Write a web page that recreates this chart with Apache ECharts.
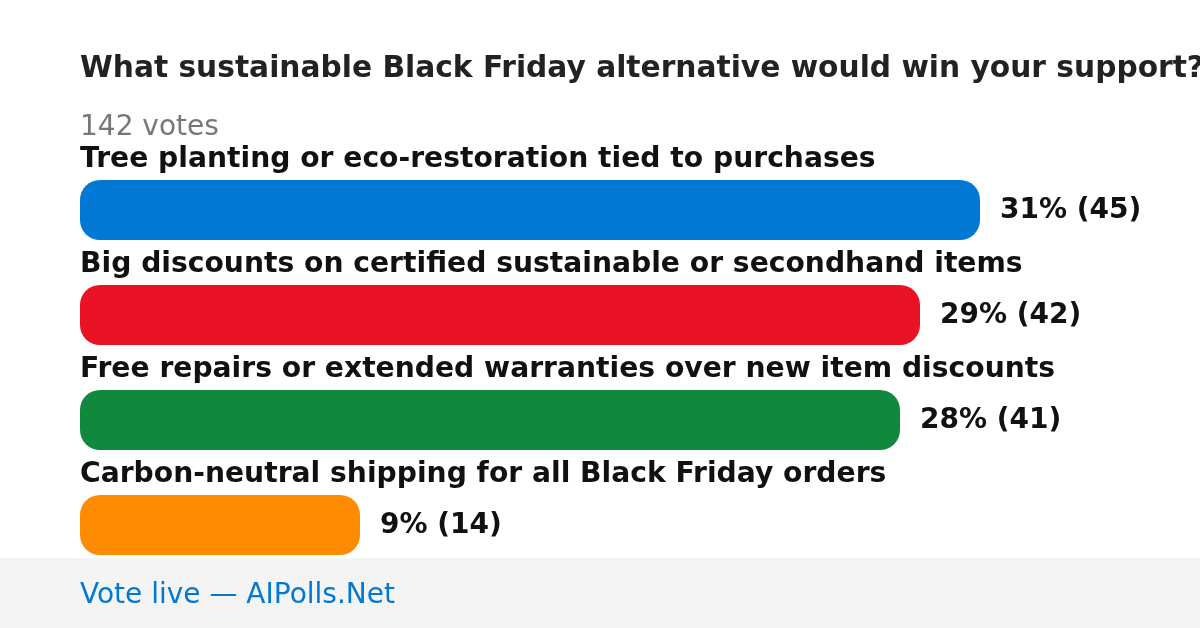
<!DOCTYPE html>
<html>
<head>
<meta charset="utf-8">
<script src="https://cdn.jsdelivr.net/npm/echarts@6/dist/echarts.min.js"></script>
<style>
html,body{margin:0;padding:0;background:#fff;}
#chart{width:1200px;height:628px;}
</style>
</head>
<body>
<div id="chart"></div>
<script>
const titleText = 'What sustainable Black Friday alternative would win your support?';
const totalVotesText = '142 votes';
const footerText = 'Vote live \u2014 AIPolls.Net';
const categories = [
  'Tree planting or eco-restoration tied to purchases',
  'Big discounts on certified sustainable or secondhand items',
  'Free repairs or extended warranties over new item discounts',
  'Carbon-neutral shipping for all Black Friday orders'
];
const votes = [45, 42, 41, 14];
const percents = [31, 29, 28, 9];
const colors = ['#0078d4', '#e81224', '#10893e', '#ff8c00'];

const FONT = 'DejaVu Sans';
const chart = echarts.init(document.getElementById('chart'), null, {renderer: 'canvas'});
chart.setOption({
  backgroundColor: '#ffffff',
  animation: false,
  title: [
    {text: titleText, left: 80, top: 54, padding: 0,
     textStyle: {fontFamily: FONT, fontSize: 29.7, fontWeight: 'bold', color: '#222222'}},
    {text: totalVotesText, left: 80, top: 114, padding: 0,
     textStyle: {fontFamily: FONT, fontSize: 28, fontWeight: 'normal', color: '#777777'}},
    {text: footerText, left: 80, top: 582, padding: 0, z: 10,
     textStyle: {fontFamily: FONT, fontSize: 28, fontWeight: 'normal', color: '#0078d4'}}
  ],
  graphic: [
    {type: 'rect', left: 0, top: 558, z: -1, shape: {width: 1200, height: 70}, style: {fill: '#f4f4f4'}}
  ],
  grid: {left: 80, top: 157.5, width: 900, height: 420, containLabel: false},
  xAxis: {type: 'value', min: 0, max: 45, show: false},
  yAxis: {
    type: 'category', inverse: true, data: categories,
    axisLine: {show: false}, axisTick: {show: false}, splitLine: {show: false},
    axisLabel: {show: false}
  },
  series: [{
    type: 'bar', data: votes.map((v, i) => ({value: v, itemStyle: {color: colors[i]}})),
    barWidth: 60, barGap: '-100%', z: 2,
    itemStyle: {borderRadius: 20},
    label: {
      show: true, position: 'right', distance: 20, offset: [0, 1],
      fontFamily: FONT, fontSize: 28, fontWeight: 'bold', color: '#111111',
      formatter: p => percents[p.dataIndex] + '% (' + votes[p.dataIndex] + ')'
    }
  }, {
    type: 'bar', data: votes.map(() => 0.0001), silent: true,
    barWidth: 60, barGap: '-100%', z: 3,
    itemStyle: {color: 'rgba(0,0,0,0)'},
    label: {
      show: true, position: 'insideLeft', distance: 0, offset: [0, -50],
      align: 'left',
      fontFamily: FONT, fontSize: 28.2, fontWeight: 'bold', color: '#111111',
      formatter: p => categories[p.dataIndex]
    }
  }]
});
</script>
</body>
</html>
